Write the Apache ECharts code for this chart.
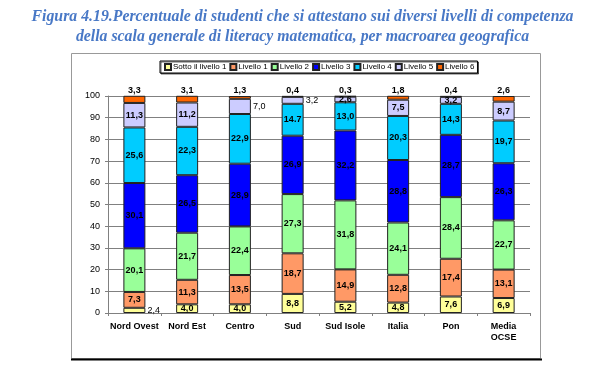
<!DOCTYPE html>
<html>
<head>
<meta charset="utf-8">
<script src="https://cdn.jsdelivr.net/npm/echarts@6/dist/echarts.min.js"></script>
<style>html,body{margin:0;padding:0;background:#fff;}#c{width:605px;height:369px;}</style>
</head>
<body>
<div id="c"></div>
<script>
const categories = ['Nord Ovest', 'Nord Est', 'Centro', 'Sud', 'Sud Isole', 'Italia', 'Pon', 'Media\nOCSE'];
const seriesNames = ['Sotto il livello 1', 'Livello 1', 'Livello 2', 'Livello 3', 'Livello 4', 'Livello 5', 'Livello 6'];
const sottoLivello1 = [2.4, 4.0, 4.0, 8.8, 5.2, 4.8, 7.6, 6.9];
const livello1 = [7.3, 11.3, 13.5, 18.7, 14.9, 12.8, 17.4, 13.1];
const livello2 = [20.1, 21.7, 22.4, 27.3, 31.8, 24.1, 28.4, 22.7];
const livello3 = [30.1, 26.5, 28.9, 26.9, 32.2, 28.8, 28.7, 26.3];
const livello4 = [25.6, 22.3, 22.9, 14.7, 13.0, 20.3, 14.3, 19.7];
const livello5 = [11.3, 11.2, 7.0, 3.2, 2.6, 7.5, 3.2, 8.7];
const livello6 = [3.3, 3.1, 1.3, 0.4, 0.3, 1.8, 0.4, 2.6];
const yTicks = [0, 10, 20, 30, 40, 50, 60, 70, 80, 90, 100];

const colors = ['#FFFF99', '#FF9966', '#99FF99', '#0000FF', '#00CCFF', '#CCCCFF', '#FF6600'];
const allData = [sottoLivello1, livello1, livello2, livello3, livello4, livello5, livello6];
// labels drawn to the right of small segments: [seriesIndex, categoryIndex]
const rightLabels = [[0, 0], [5, 2], [5, 3]];
// labels shown with a decimal point instead of comma
const dotLabels = [[4, 3]];

function fmt(s, i, v) {
  const t = v.toFixed(1);
  return dotLabels.some(p => p[0] === s && p[1] === i) ? t : t.replace('.', ',');
}

const series = allData.map((arr, s) => ({
  name: seriesNames[s],
  type: 'bar',
  stack: 'total',
  barWidth: 22,
  itemStyle: { color: colors[s], borderColor: '#222', borderWidth: 1 },
  label: {
    show: true,
    position: s === 6 ? 'top' : 'inside',
    distance: 1,
    fontFamily: 'Liberation Sans, Arial, sans-serif',
    fontSize: 9,
    fontWeight: 'bold',
    color: '#000',
    formatter: p => fmt(s, p.dataIndex, p.value)
  },
  data: arr.map((v, i) => {
    const isRight = rightLabels.some(p => p[0] === s && p[1] === i);
    return isRight ? { value: v, label: { position: 'right', distance: 2, fontWeight: 'normal' } } : v;
  })
}));

const chart = echarts.init(document.getElementById('c'), null, { renderer: 'canvas' });
chart.setOption({
  animation: false,
  backgroundColor: '#fff',
  color: colors,
  title: {
    text: 'Figura 4.19.Percentuale di studenti che si attestano sui diversi livelli di competenza\ndella scala generale di literacy matematica, per macroarea geografica',
    left: 'center',
    top: 2,
    textStyle: {
      fontFamily: 'Liberation Serif, serif',
      fontStyle: 'italic',
      fontWeight: 'bold',
      fontSize: 15.8,
      lineHeight: 20,
      color: '#4878C6'
    }
  },
  graphic: [
    { type: 'rect', shape: { x: 71.5, y: 53.5, width: 469, height: 305 }, style: { fill: 'none', stroke: '#999', lineWidth: 1 }, z: -1 },
    { type: 'line', shape: { x1: 71, y1: 359.5, x2: 542, y2: 359.5 }, style: { stroke: '#000', lineWidth: 2 } }
  ],
  legend: {
    left: 160,
    top: 61,
    itemWidth: 6,
    itemHeight: 6,
    itemGap: 3,
    padding: [2, 3, 2, 4],
    borderColor: '#000',
    borderWidth: 1,
    shadowColor: 'rgba(0,0,0,0.6)',
    shadowOffsetX: 1,
    shadowOffsetY: 1,
    shadowBlur: 0,
    backgroundColor: '#fff',
    icon: 'rect',
    textStyle: { fontFamily: 'Liberation Sans, Arial, sans-serif', fontSize: 8, color: '#000', padding: [0, 0, 0, -3] },
    data: seriesNames
  },
  grid: { left: 108, right: 75, top: 96, bottom: 56, containLabel: false },
  xAxis: {
    type: 'category',
    data: categories,
    axisLine: { lineStyle: { color: '#808080' } },
    axisTick: { show: true, inside: false, length: 3, alignWithLabel: false, lineStyle: { color: '#808080' } },
    axisLabel: {
      interval: 0,
      margin: 8,
      fontFamily: 'Liberation Sans, Arial, sans-serif',
      fontSize: 9,
      fontWeight: 'bold',
      color: '#000',
      lineHeight: 11
    }
  },
  yAxis: {
    type: 'value',
    min: 0,
    max: 100,
    interval: 10,
    axisLine: { show: true, lineStyle: { color: '#808080' } },
    axisTick: { show: true, length: 3, lineStyle: { color: '#808080' } },
    splitLine: { lineStyle: { color: '#808080', width: 1 } },
    axisLabel: {
      margin: 8,
      fontFamily: 'Liberation Sans, Arial, sans-serif',
      fontSize: 9,
      color: '#000',
      formatter: v => yTicks.includes(v) ? String(v) : ''
    }
  },
  series: series
});
</script>
</body>
</html>
